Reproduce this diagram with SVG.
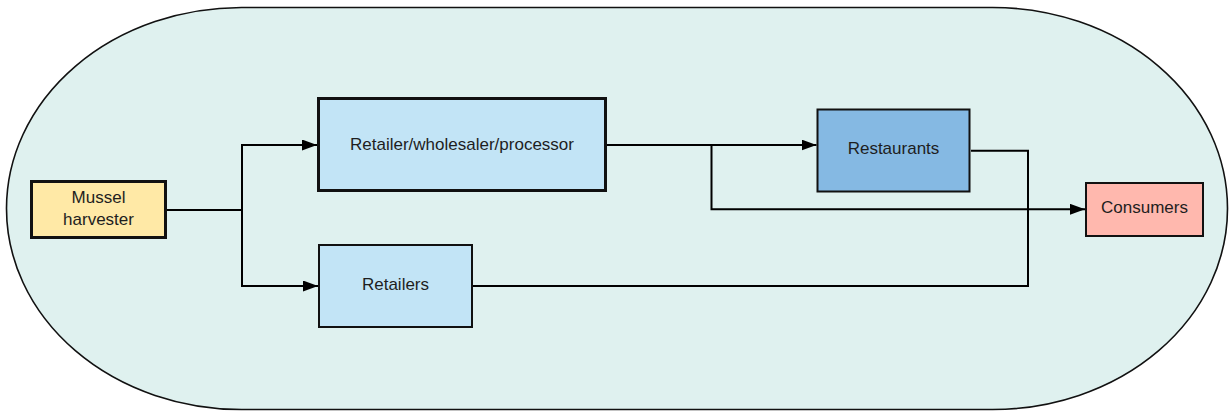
<svg xmlns="http://www.w3.org/2000/svg" width="1231" height="413" viewBox="0 0 1231 413">
<style>
.lbl{font-family:"Liberation Sans",Arial,sans-serif;font-size:17px;fill:#1e1e1e;text-anchor:middle}
.conn{fill:none;stroke:#000;stroke-width:2}
.thin{stroke:#111;stroke-width:2}
.thick{stroke:#111;stroke-width:3}
</style>
<defs>
<marker id="arr" markerUnits="userSpaceOnUse" markerWidth="16" markerHeight="12" refX="15" refY="5.5" orient="auto">
<path d="M0,0 L15,5.5 L0,11 z" fill="#000"/>
</marker>
</defs>
<rect id="boundary" x="6.5" y="7.5" width="1221" height="402" rx="235" ry="201" fill="#dff1ef" stroke="#111" stroke-width="1.6"/>
<g id="connectors" class="conn">
<path d="M167 210 H242 V145 H317" marker-end="url(#arr)"/>
<path d="M242 210 V286 H318" marker-end="url(#arr)"/>
<path d="M607 145 H816.5" marker-end="url(#arr)"/>
<path d="M711.5 145 V209.3 H1085" marker-end="url(#arr)"/>
<path d="M971 150.7 H1028 V286 H473"/>
</g>
<g id="mussel-harvester">
<rect x="31.5" y="181.5" width="134" height="56" fill="#ffe9a6" class="thick"/>
<text class="lbl" x="98.5" y="202.7">Mussel</text>
<text class="lbl" x="98.5" y="225">harvester</text>
</g>
<g id="retailer-wholesaler-processor">
<rect x="318.5" y="98.5" width="287" height="92" fill="#c2e4f6" class="thick"/>
<text class="lbl" x="462" y="150">Retailer/wholesaler/processor</text>
</g>
<g id="retailers">
<rect x="319" y="245" width="153" height="82" fill="#c2e4f6" class="thin"/>
<text class="lbl" x="395.5" y="290">Retailers</text>
</g>
<g id="restaurants">
<rect x="817.5" y="109.5" width="152" height="82" fill="#85b9e3" class="thin"/>
<text class="lbl" x="893.5" y="154.3">Restaurants</text>
</g>
<g id="consumers">
<rect x="1086" y="183" width="117" height="53" fill="#ffb8ae" class="thin"/>
<text class="lbl" x="1144.5" y="213.3">Consumers</text>
</g>
</svg>
